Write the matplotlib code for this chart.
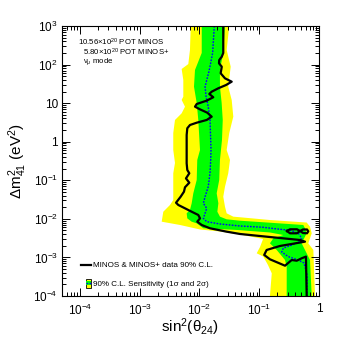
import matplotlib
matplotlib.use("Agg")
import matplotlib.pyplot as plt
from matplotlib.lines import Line2D
from matplotlib.patches import Rectangle, Patch
from matplotlib.legend_handler import HandlerBase
from matplotlib.ticker import FixedLocator, FixedFormatter, LogLocator, NullFormatter

plt.rcParams['font.family'] = ['Liberation Sans', 'DejaVu Sans']
plt.rcParams['mathtext.fontset'] = 'custom'
plt.rcParams['mathtext.rm'] = 'Liberation Sans'
plt.rcParams['mathtext.it'] = 'Liberation Sans:italic'
plt.rcParams['mathtext.bf'] = 'Liberation Sans:bold'

# 2 sigma band (closed contour, sin^2 vs dm^2)
yellow_x = [7.13e-3, 6.93e-3, 6.50e-3, 5.03e-3, 5.36e-3, 5.36e-3, 5.03e-3, 5.72e-3, 5.03e-3, 3.89e-3,
            3.64e-3, 3.64e-3, 3.89e-3, 3.64e-3, 3.64e-3, 3.64e-3, 3.21e-3, 2.48e-3, 2.33e-3, 4.72e-3,
            1.02e-2, 2.20e-2, 4.77e-2, 0.116, 0.103, 0.0906, 0.117, 0.140, 0.162, 0.151,
            0.858, 0.804, 0.662, 0.755, 0.707, 0.622, 0.151, 4.77e-2, 3.68e-2, 2.85e-2,
            2.67e-2, 2.50e-2, 2.67e-2, 3.03e-2, 3.24e-2, 2.85e-2, 3.15e-2, 3.68e-2, 3.46e-2, 3.03e-2,
            3.33e-2, 2.85e-2, 3.15e-2]
yellow_y = [1000, 239, 103, 76.8, 39.8, 14.7, 12.1, 8.09, 5.45, 3.66,
            1.68, 0.609, 0.281, 0.152, 0.068, 0.0308, 0.0229, 0.0153, 0.00844, 0.00693,
            0.0053, 0.0047, 0.00393, 0.00301, 0.00186, 0.00128, 0.00105, 0.000635, 0.000387, 1e-4,
            1e-4, 0.00156, 0.00232, 0.00422, 0.00626, 0.00803, 0.00933, 0.011, 0.0114, 0.0139,
            0.0207, 0.0375, 0.068, 0.152, 0.336, 0.609, 1.68, 4.45, 12.1, 26.7,
            88.1, 239, 1000]

# 1 sigma band
green_x = [1.09e-2, 1.09e-2, 8.41e-3, 8.09e-3, 8.98e-3, 9.55e-3, 1.02e-2, 9.18e-3, 8.98e-3, 7.88e-3,
           7.40e-3, 6.93e-3, 6.10e-3, 6.25e-3, 7.40e-3, 8.98e-3, 1.16e-2, 4.25e-2, 0.151, 0.253,
           0.172, 0.151, 0.196, 0.270, 0.288, 0.288, 0.755, 0.707, 0.583, 0.513,
           0.622, 0.583, 0.546, 0.151, 4.77e-2, 2.85e-2, 2.20e-2, 1.99e-2, 2.07e-2, 1.94e-2,
           2.14e-2, 2.20e-2, 2.38e-2, 2.45e-2, 2.35e-2, 2.20e-2, 2.20e-2, 2.50e-2, 2.67e-2]
green_y = [1000, 200, 72.3, 26.7, 10.1, 3.66, 0.609, 0.336, 0.1016, 0.0459,
           0.0253, 0.0170, 0.0139, 0.0103, 0.00844, 0.00766, 0.00569, 0.00514, 0.00443, 0.00381,
           0.00313, 0.00232, 0.00156, 0.000857, 0.000574, 1e-4, 1e-4, 0.000857, 0.00156, 0.00232,
           0.00422, 0.00569, 0.00693, 0.00794, 0.00895, 0.00973, 0.0114, 0.0153, 0.0253, 0.0459,
           0.1016, 0.336, 1.11, 3.66, 10.1, 26.7, 72.3, 200, 1000]

# median sensitivity
median_x = [1.77e-2, 1.66e-2, 1.46e-2, 1.24e-2, 1.29e-2, 1.40e-2, 1.50e-2, 1.56e-2, 1.54e-2, 1.50e-2,
            1.40e-2, 1.24e-2, 1.16e-2, 1.32e-2, 1.24e-2, 1.16e-2, 1.32e-2, 2.20e-2, 4.77e-2, 0.117,
            0.222, 0.327, 0.451, 0.513, 0.446, 0.372, 0.253, 0.238, 0.306, 0.451,
            0.561, 0.630, 0.630]
median_y = [1000, 200, 72.3, 26.7, 14.7, 8.09, 3.66, 0.609, 0.336, 0.152,
            0.068, 0.0375, 0.0253, 0.0188, 0.0139, 0.0103, 0.00844, 0.00736, 0.00653, 0.00604,
            0.00536, 0.00505, 0.00422, 0.00313, 0.00251, 0.00216, 0.00175, 0.00138, 0.00105, 0.000857,
            0.000716, 0.00035, 1e-4]

# data 90% C.L. contour
data_x = [2.50e-2, 2.50e-2, 2.36e-2, 2.14e-2, 2.12e-2, 2.36e-2, 2.26e-2, 2.67e-2, 3.46e-2, 2.78e-2,
          2.07e-2, 1.60e-2, 1.46e-2, 1.70e-2, 1.32e-2, 8.98e-3, 8.41e-3, 1.02e-2, 1.35e-2, 1.60e-2,
          1.32e-2, 8.98e-3, 6.93e-3, 6.25e-3, 6.10e-3, 6.10e-3, 6.25e-3, 6.75e-3, 5.94e-3, 6.75e-3,
          5.72e-3, 5.50e-3, 4.84e-3, 4.05e-3, 4.42e-3, 5.72e-3, 7.40e-3, 9.55e-3, 1.02e-2, 9.18e-3,
          1.09e-2, 1.50e-2, 2.85e-2, 4.77e-2, 0.151, 0.481, 0.583, 0.222, 0.133, 0.121,
          0.151, 0.270, 0.349, 0.424, 0.513, 0.605, 0.622]
data_y = [1000, 200, 160, 131, 108, 88, 59.4, 44, 36, 29.5,
          24.3, 19.8, 17.3, 14.2, 11.6, 9.5, 8.1, 6.9, 5.65, 4.45,
          3.66, 3.11, 2.71, 2.23, 1.49, 0.275, 0.185, 0.152, 0.112, 0.0865,
          0.0658, 0.0506, 0.0375, 0.0262, 0.0229, 0.01875, 0.0153, 0.0126, 0.0103, 0.00844,
          0.00693, 0.00569, 0.00465, 0.00405, 0.00338, 0.00283, 0.00256, 0.00198, 0.00156, 0.00116,
          0.000894, 0.00061, 0.000857, 0.000822, 0.000949, 0.00105, 1e-4]

# small island of the data contour
island_x = [0.291, 0.327, 0.428, 0.481, 0.540, 0.630, 0.662, 0.630, 0.540, 0.481, 0.428, 0.327, 0.291]
island_y = [0.00484, 0.00536, 0.00536, 0.00484, 0.0053, 0.0053, 0.00475, 0.00422, 0.0043, 0.00484,
            0.00422, 0.00422, 0.00484]

x_ticks = [1e-4, 1e-3, 1e-2, 1e-1, 1]
x_labels = ['$10^{-4}$', '$10^{-3}$', '$10^{-2}$', '$10^{-1}$', '1']
y_ticks = [1e-4, 1e-3, 1e-2, 1e-1, 1, 10, 1e2, 1e3]
y_labels = ['$10^{-4}$', '$10^{-3}$', '$10^{-2}$', '$10^{-1}$', '1', '10', '$10^{2}$', '$10^{3}$']


class BandHandler(HandlerBase):
    # yellow box, green stripe and dotted median, like the ROOT legend icon
    def create_artists(self, legend, orig_handle, xdescent, ydescent, width, height, fontsize, trans):
        w = height * 0.9
        x0 = -xdescent + width - w
        y0 = -ydescent - height * 0.3
        h = height * 1.6
        outer = Rectangle((x0, y0), w, h, facecolor='#ffff00', edgecolor='black', lw=0.6, transform=trans)
        inner = Rectangle((x0, y0 + h * 0.3), w, h * 0.4, facecolor='#00ff00', edgecolor='none', transform=trans)
        med = Line2D([x0, x0 + w], [y0 + h / 2, y0 + h / 2], color='blue', ls=(0, (1.2, 1.0)), lw=1.0, transform=trans)
        return [outer, inner, med]


fig = plt.figure(figsize=(3.55, 3.38), dpi=100)
ax = fig.add_axes([0.1746, 0.1243, 0.724, 0.7988])

ax.fill(yellow_x, yellow_y, color='#ffff00', lw=0)
ax.fill(green_x, green_y, color='#00ff00', lw=0)
ax.plot(median_x, median_y, color='blue', ls=(0, (1.2, 1.0)), lw=1.0)
ax.plot(data_x, data_y, color='black', lw=1.6)
ax.plot(island_x, island_y, color='black', lw=1.6)

ax.set_xscale('log')
ax.set_yscale('log')
ax.set_xlim(5e-5, 1)
ax.set_ylim(1e-4, 1e3)

ax.xaxis.set_major_locator(FixedLocator(x_ticks))
ax.xaxis.set_major_formatter(FixedFormatter(x_labels))
ax.yaxis.set_major_locator(FixedLocator(y_ticks))
ax.yaxis.set_major_formatter(FixedFormatter(y_labels))
for a in (ax.xaxis, ax.yaxis):
    a.set_minor_locator(LogLocator(base=10, subs=range(2, 10), numticks=20))
    a.set_minor_formatter(NullFormatter())

ax.tick_params(which='both', direction='in', top=True, right=True, width=0.7, labelsize=8.5)
ax.tick_params(which='major', length=6)
ax.tick_params(which='minor', length=3)
ax.tick_params(axis='x', pad=5)
ax.tick_params(axis='y', pad=3)
for s in ax.spines.values():
    s.set_linewidth(0.8)

ax.set_xlabel('sin$^{2}$(θ$_{24}$)', fontsize=11, labelpad=-1)
ax.set_ylabel('Δm$^{2}_{41}$ (eV$^{2}$)', fontsize=11, labelpad=3)

ax.text(0.062, 0.941, '10.56×10$^{20}$ POT MINOS', transform=ax.transAxes, fontsize=5.6, va='center')
ax.text(0.082, 0.904, '5.80×10$^{20}$ POT MINOS+', transform=ax.transAxes, fontsize=5.6, va='center')
ax.text(0.082, 0.867, 'ν$_{\\mu}$ mode', transform=ax.transAxes, fontsize=5.6, va='center')

handles = [Line2D([], [], color='black', lw=1.6), Patch()]
labels = ['MINOS & MINOS+ data 90% C.L.', '90% C.L. Sensitivity (1σ and 2σ)']
ax.legend(handles, labels, handler_map={Patch: BandHandler()}, loc='lower left',
          bbox_to_anchor=(0.075, 0.03), borderpad=0, borderaxespad=0, frameon=False,
          fontsize=5.8, handlelength=1.2, handletextpad=0.2, labelspacing=1.35)

fig.savefig('out.png', dpi=100)
